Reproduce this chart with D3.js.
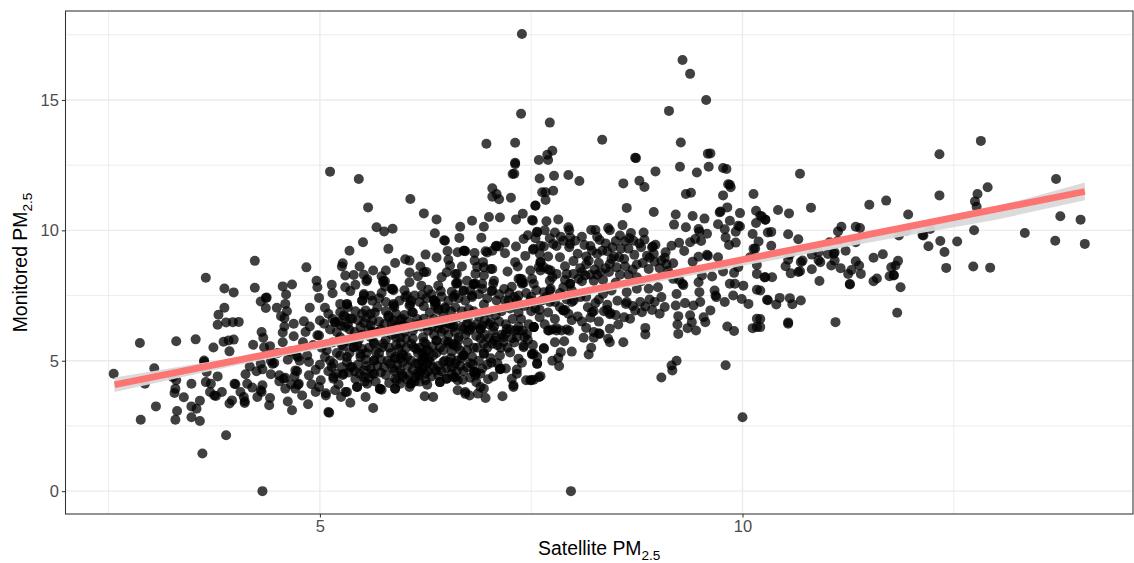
<!DOCTYPE html>
<html>
<head>
<meta charset="utf-8">
<script src="https://cdn.jsdelivr.net/npm/d3@7"></script>
<style>
  body { margin: 0; background: #fff; }
  text { font-family: "Liberation Sans", Arial, sans-serif; }
</style>
</head>
<body>
<div id="chart"></div>
<script>
// points as [satellite, monitored], split by region
const leftPoints = [[2.56,4.5],[2.87,5.68],[3.04,4.71],[2.93,4.12],[2.88,2.74],[3.06,3.25],[3.3,5.75],[3.53,5.82],[3.26,4.37],[3.3,4.25],[3.29,3.93],[3.28,3.76],[3.39,3.6],[3.31,3.07],[3.29,2.74],[3.48,3.25],[3.54,3.16],[3.48,2.83],[3.58,2.69],[3.58,3.47],[3.48,4.12],[3.65,8.18],[3.87,7.77],[3.98,7.62],[4.23,8.83],[4.23,7.8],[4.84,8.58],[4.56,7.85],[4.67,7.92],[4.96,8.07],[4.97,7.82],[4.36,7.41],[4.37,7.42],[4.3,7.27],[4.36,7.02],[4.49,7.03],[4.6,7.54],[4.59,7.18],[4.61,6.9],[4.54,6.71],[4.58,6.63],[4.58,6.31],[4.56,6.08],[4.56,5.71],[4.69,6.42],[4.69,5.94],[4.88,7.03],[4.99,7.41],[3.87,7.03],[3.8,6.76],[3.79,6.38],[3.89,6.47],[3.97,6.48],[4.04,6.49],[3.86,5.73],[3.92,5.78],[3.98,5.81],[3.74,5.51],[3.93,5.36],[4.21,5.61],[4.31,6.1],[4.33,5.88],[4.34,5.52],[4.41,5.56],[3.63,5.01],[3.63,4.95],[3.66,4.57],[3.65,4.18],[3.71,4.12],[3.79,4.4],[3.7,3.8],[3.75,3.67],[3.77,3.65],[3.84,3.8],[3.96,3.48],[3.93,3.36],[3.99,4.12],[4.0,4.1],[4.06,3.8],[4.1,3.61],[4.11,3.38],[4.11,3.45],[4.12,4.48],[4.14,4.12],[4.2,3.97],[4.3,3.87],[4.31,3.8],[4.32,4.06],[4.26,3.61],[4.41,3.57],[4.4,3.29],[4.62,3.44],[4.67,3.1],[4.86,3.33],[4.79,3.67],[3.89,2.14],[3.61,1.44],[4.32,0],[4.17,4.78],[4.3,4.89],[4.32,4.67],[4.42,4.48],[4.46,4.91],[4.44,4.88],[4.52,4.44],[4.57,4.31],[4.59,4.35],[4.52,4.21],[4.59,3.93],[4.73,4.6],[4.71,4.63],[4.75,4.12],[4.74,4.08],[4.71,3.93],[4.87,4.44],[4.62,5.04],[4.74,5.14],[4.72,5.2],[4.85,5.2],[4.87,4.95],[4.8,5.71],[4.83,6.1],[4.81,6.51],[4.88,6.31],[5.0,6.54],[4.99,5.97],[4.97,5.98],[5.06,5.14],[5.01,4.25],[4.99,3.99],[5.07,3.75],[5.1,3.03],[4.95,4.65],[5.0,4.85],[5.02,5.5],[4.92,5.6],[4.76,5.0],[4.66,4.1],[4.7,4.4],[4.9,4.1],[4.95,3.8],[4.65,5.35],[4.5,5.3],[4.42,5.0],[4.25,4.6]];
const upperCentrePoints = [[5.12,12.25],[5.46,11.97],[5.57,10.88],[6.07,11.2],[6.23,10.65],[6.38,10.42],[5.67,10.12],[5.76,9.96],[5.86,10.06],[5.51,9.54],[5.35,9.22],[5.81,9.29],[6.36,9.89],[6.47,9.62],[6.48,9.6],[6.66,10.14],[6.65,9.71],[6.8,10.37],[6.94,10.14],[7.0,10.51],[7.13,10.49],[6.91,9.72],[7.04,11.61],[7.09,11.39],[7.04,11.29],[7.12,11.19],[7.26,11.25],[7.28,12.16],[7.3,12.17],[7.31,12.54],[7.32,10.42],[7.4,10.64],[7.51,10.4],[7.55,10.94],[6.25,9.07],[6.38,8.96],[6.51,9.21],[6.01,8.89],[6.06,8.84],[5.89,8.75],[6.63,9.16],[6.71,9.22],[6.72,9.2],[6.83,9.13],[6.96,9.2],[6.98,9.15],[7.08,9.39],[7.12,9.38],[7.19,9.53],[7.19,9.12],[7.32,9.38],[7.41,9.67],[7.46,9.81],[7.57,9.95],[7.52,9.26],[7.43,9.02],[7.31,8.78],[7.34,8.61],[7.22,8.42],[7.02,8.52],[6.93,8.78],[6.83,8.84],[6.68,8.61],[6.52,8.87],[6.54,8.65],[6.19,8.61],[6.23,8.39],[6.26,8.4],[6.06,8.38],[5.78,8.46],[5.63,8.46],[5.47,8.61],[5.27,8.74],[5.26,8.61],[5.3,8.27],[5.4,8.29],[5.52,8.3],[5.55,8.05],[5.56,8.12],[5.73,8.24],[5.75,8.01],[5.77,8.05],[6.16,8.24],[6.06,8.01],[6.2,7.88],[6.28,7.72],[6.44,8.2],[6.4,7.88],[6.5,8.39],[6.6,8.33],[6.61,7.97],[6.63,7.99],[6.43,7.67],[6.6,7.53],[6.7,7.67],[6.82,7.92],[6.84,7.95],[6.86,8.59],[6.74,8.07],[6.94,8.27],[7.05,7.95],[6.92,7.76],[7.03,7.67],[6.8,7.5],[7.37,8.14],[7.39,8.12],[7.39,7.95],[7.41,7.98],[7.27,7.84],[7.49,8.46],[7.59,8.59],[7.53,7.95],[5.14,7.91],[5.15,7.59],[5.3,7.82],[5.36,7.67],[5.42,7.91],[5.52,7.56],[5.6,7.49],[5.73,7.6],[5.86,7.76],[5.87,7.7],[6.01,7.44],[6.21,7.53],[5.06,7.03],[5.24,7.18],[5.32,7.16],[5.33,7.05],[5.5,7.31],[5.54,6.93],[5.68,7.05],[5.87,7.18],[5.88,7.05],[6.06,7.12],[6.08,7.3],[6.23,7.09],[6.35,7.31],[6.36,7.12],[6.37,7.2],[6.48,7.05],[6.6,7.05],[6.76,6.97],[6.94,7.16],[7.09,7.31],[7.19,7.31],[7.33,7.33],[7.49,7.31]];
const lowerCentrePoints = [[5.11,3.01],[5.36,3.39],[5.63,3.19],[5.54,3.61],[5.25,3.61],[5.07,3.67],[6.24,3.64],[6.34,3.61],[5.71,3.92],[5.73,3.89],[5.89,3.93],[6.06,3.99],[6.27,4.08],[6.08,4.12],[6.42,4.18],[6.5,4.31],[6.58,4.37],[6.69,4.27],[6.63,3.87],[6.72,3.8],[6.77,3.67],[6.87,3.74],[6.94,3.93],[6.96,3.57],[7.16,3.64],[6.99,4.29],[6.85,4.18],[7.29,3.99],[7.27,4.31],[7.44,4.25],[7.5,4.25],[7.59,4.37],[7.13,4.67],[7.14,4.69],[7.33,4.66],[6.83,4.57],[6.85,4.55],[6.81,4.86],[7.03,4.92],[7.25,5.32],[7.13,5.2],[7.39,4.92],[7.35,5.08],[7.51,5.24],[7.57,5.14],[6.7,5.2],[6.94,5.29],[7.04,5.65],[7.17,5.9],[7.41,5.52],[7.45,6.03],[7.53,6.29],[7.31,6.16],[7.05,6.16],[6.9,6.22],[6.74,6.42],[6.58,6.29],[6.38,5.78],[6.52,5.72],[6.6,4.89],[6.48,5.01],[6.37,4.63],[6.23,4.76],[6.17,4.44],[6.23,5.14],[6.23,5.72],[5.99,5.2],[5.89,5.08],[5.95,4.63],[5.91,4.25],[5.64,4.5],[5.52,4.63],[5.64,5.01],[5.4,5.52],[5.44,3.99],[5.3,3.8],[5.16,4.31],[5.14,4.76],[5.24,5.2],[5.38,4.76],[5.08,5.4],[5.48,5.14],[5.75,5.65],[5.95,5.9],[6.11,5.52],[5.64,5.71],[5.24,5.9],[5.05,6.42],[5.18,6.48],[5.38,6.61],[5.48,6.29],[5.62,6.54],[5.81,6.73],[5.95,6.54],[6.23,6.61],[6.42,6.42],
  [5.1,4.6],[5.12,5.0],[5.15,5.7],[5.2,6.1],[5.22,4.1],[5.27,4.45],[5.28,5.55],[5.3,6.3],[5.32,4.95],[5.35,5.3],[5.42,4.3],[5.45,4.85],[5.46,5.8],[5.5,6.0],[5.53,4.2],[5.55,5.3],[5.58,5.5],[5.6,4.7],[5.62,6.1],[5.68,4.8],[5.7,5.3],[5.72,6.2],[5.78,4.45],[5.8,5.0],[5.82,5.5],[5.85,6.0],[5.86,4.7],[5.9,5.6],[5.92,6.3],[5.96,5.1],[5.98,4.4],[6.0,6.1],[6.02,5.5],[6.04,4.8],[6.06,4.45],[6.08,5.0],[6.1,5.85],[6.12,6.3],[6.14,4.9],[6.16,5.3],[6.18,4.2],[6.2,5.0],[6.22,5.9],[6.25,4.5],[6.26,5.4],[6.28,6.15],[6.3,4.95],[6.32,4.4],[6.33,5.55],[6.35,6.0],[6.38,5.3],[6.4,4.8],[6.44,6.1],[6.46,5.4],[6.5,4.7],[6.52,6.0],[6.55,5.1],[6.58,5.6],[6.62,4.6],[6.64,5.9],[6.66,5.4],[6.7,4.6],[6.72,6.0],[6.75,5.7],[6.78,4.9],[6.8,6.3],[6.82,5.5],[6.85,5.95],[6.88,5.0],[6.92,4.7],[6.95,6.0],[6.98,5.5],[7.0,6.4],[7.02,5.1],[7.06,6.3],[7.1,5.6],[7.12,6.5],[7.15,6.0],[7.2,6.4],[7.22,5.5],[7.25,6.2],[7.28,6.6],[7.3,5.7],[7.35,6.3],[7.38,6.6],[7.42,5.9],[7.47,6.4],[7.52,5.6],
  [5.1,6.8],[5.15,6.6],[5.22,6.5],[5.3,6.7],[5.35,6.2],[5.42,6.9],[5.45,6.55],[5.55,6.65],[5.58,6.2],[5.65,6.85],[5.7,6.5],[5.78,6.9],[5.85,6.45],[5.9,6.8],[6.0,6.75],[6.05,6.5],[6.1,6.85],[6.15,6.6],[6.2,6.3],[6.3,6.85],[6.35,6.6],[6.4,6.95],[6.46,6.7],[6.5,6.45],[6.55,6.9],[6.62,6.65],[6.68,6.9],[6.75,6.6],[6.82,6.9],[6.88,6.7],[6.95,6.55],[7.0,6.85],[7.08,6.75],[7.15,6.9],[7.25,7.0],[7.35,6.85],[7.42,7.1],[7.5,6.9]];
// second pass over the darkest blobs of the cloud
const denseCorePoints = [[5.24,6.86],[5.32,7.18],[5.36,6.61],[5.28,6.73],[5.18,6.48],[5.52,7.5],[5.5,7.3],[5.6,6.8],[5.5,6.8],[5.81,6.67],[5.87,7.12],[5.87,6.54],[5.97,6.61],[6.07,7.18],[6.03,7.5],[6.09,6.86],[5.85,7.75],[5.75,8.07],[5.77,7.85],[6.37,7.25],[6.35,7.32],[6.4,6.99],[6.48,6.99],
  [5.4,5.52],[5.32,5.14],[5.48,5.27],[5.64,5.01],[5.74,5.52],[5.89,5.14],[5.97,5.27],[6.03,5.14],[5.93,5.46],[6.17,4.89],[6.23,5.14],[6.29,5.08],[6.19,4.57],[6.13,4.37],[6.07,4.12],[6.25,5.65],[6.38,5.78],[6.52,5.65],[6.64,5.78],[6.46,4.95],[6.53,4.95],[6.6,4.37],[6.5,4.31],[6.42,4.18],[5.52,4.38],[5.44,3.99],[5.32,3.8],[5.18,3.87],[5.16,4.38],[5.28,4.5],[5.36,4.76],[5.16,4.89],[5.62,4.5],[5.56,4.12],[5.71,3.93],[5.89,3.93],[5.89,4.31],[5.97,4.5],[5.83,4.89],[5.95,4.12],[5.64,5.65],[6.21,4.7],[6.27,4.9],[6.25,4.25],[6.12,4.2],[6.16,4.55],[6.21,5.3],[6.18,5.5],
  [6.62,7.95],[6.82,7.95],[6.92,7.95],[6.84,8.33],[6.94,8.58],[7.04,8.52],[6.62,8.33],[7.06,8.07],[7.35,8.14],[7.39,8.01],[7.61,8.78],[7.65,8.58],[7.73,8.46],[7.96,7.95],[7.92,8.33],[8.06,8.14],[7.51,8.14],[7.73,7.76],[7.04,9.22],[7.09,9.41],[6.7,9.22],[7.61,9.41],[7.96,9.48],[6.58,7.44],[6.7,7.69],[6.8,7.44],[7.04,7.69],[7.23,7.31],[7.35,7.5],[7.5,7.45],[7.65,7.63],[7.88,6.93],
  [6.7,6.22],[6.9,6.22],[7.02,6.48],[7.21,6.22],[7.35,6.16],[7.53,6.29],[7.71,6.16],[7.8,6.16],[6.58,6.35],[6.78,6.22],[7.06,5.78],[7.17,5.72],[7.41,5.58],[7.51,5.27],[7.65,5.49],[6.94,5.27],[6.62,5.01],[6.7,5.2],[6.82,4.57],[6.84,4.44],[6.9,3.99],[7.13,4.69],[7.57,4.89],[7.33,4.5],[7.29,4.06],[7.49,4.25],[6.56,4.5],[6.72,3.73],[6.94,5.65],[6.58,5.65],
  [5.12,6.2],[5.25,6.35],[5.33,6.4],[5.41,6.1],[5.52,6.45],[5.6,6.35],[5.68,6.1],[5.76,6.4],[5.84,6.2],[5.98,6.35],[6.03,6.3],[6.1,6.15],[6.16,6.4],[6.26,6.35],[6.33,6.3],[6.4,6.25],[6.47,6.2],[6.54,6.4],[6.6,6.1],[6.68,6.3],[6.76,6.15],[6.85,6.4],[6.92,6.35],[5.2,5.3],[5.26,5.6],[5.34,5.75],[5.44,5.6],[5.5,5.45],[5.54,5.05],[5.6,5.9],[5.66,5.35],[5.72,5.05],[5.78,5.8],[5.84,5.3],[5.9,5.9],[5.96,5.65],[6.02,5.85],[6.08,5.65],[6.14,5.45],[6.28,5.4],[6.34,5.2],[6.42,5.5],[6.48,5.75],[6.56,5.35],[6.62,5.55],[6.68,5.1],[6.74,5.4],[6.8,5.15],[6.86,5.5],[6.9,5.85],[7.0,5.85],[7.08,5.9],[7.14,5.5],[7.2,6.05],[7.27,5.85],[7.33,5.9],[7.4,6.15],[7.46,5.8],
  [5.2,4.5],[5.26,4.75],[5.34,4.55],[5.41,4.6],[5.47,4.5],[5.55,4.8],[5.58,4.35],[5.66,4.2],[5.72,4.55],[5.76,4.75],[5.82,4.15],[5.88,4.6],[5.92,4.85],[5.98,4.95],[6.02,4.3],[6.1,4.65],[6.28,4.6],[6.34,4.75],[6.4,4.45],[6.44,4.6],[6.56,4.75],[6.63,4.25],[6.66,4.8],[6.74,4.75],[6.78,4.35],[6.9,4.5],[6.98,4.85],[7.05,4.4],[7.1,4.9],[7.2,4.7],
  [5.62,7.3],[5.7,7.4],[5.78,7.25],[5.94,7.3],[6.0,7.7],[6.12,7.5],[6.18,7.25],[6.26,7.4],[6.32,7.55],[6.44,7.45],[6.52,7.3],[6.56,7.65],[6.64,7.4],[6.72,7.3],[6.78,7.7],[6.88,7.55],[6.98,7.4],[7.12,7.55],[7.18,7.75],[7.24,7.6],[7.3,7.45],[7.44,7.6],[7.56,7.7],[7.62,7.3],[7.68,7.45],[7.78,7.25],[7.84,7.6],[7.92,7.35],[7.98,7.7]];
const rightCentrePoints = [[7.72,14.13],[8.34,13.47],[8.74,12.77],[9.27,13.37],[9.62,12.95],[9.26,12.44],[8.97,12.26],[9.46,12.22],[9.6,12.44],[9.77,12.39],[9.81,12.35],[7.59,12.7],[7.69,12.9],[7.7,12.7],[7.75,13.05],[7.77,12.09],[7.94,12.12],[8.07,11.89],[7.6,11.99],[8.59,11.8],[8.78,11.9],[8.84,11.66],[9.83,11.77],[9.85,11.75],[9.86,11.65],[7.76,11.52],[7.63,11.46],[7.67,11.46],[7.67,11.16],[7.55,10.95],[9.33,11.39],[9.39,11.44],[9.77,11.34],[10.13,11.39],[8.63,10.86],[8.95,10.7],[9.21,10.61],[9.19,10.22],[9.41,10.55],[9.55,10.45],[9.82,10.88],[9.73,10.69],[9.74,10.72],[9.71,10.23],[9.97,10.66],[10.16,10.75],[10.21,10.56],[10.27,10.41],[10.16,10.28],[9.85,10.37],[9.95,10.18],[9.97,10.15],[9.79,10.04],[9.92,9.95],[10.12,9.86],[9.8,9.73],[10.19,9.57],[9.84,9.44],[9.92,9.53],[10.13,9.29],[10.15,9.3],[10.3,9.92],[7.52,10.37],[7.68,10.35],[7.82,10.42],[7.94,10.12],[7.95,10.0],[7.57,9.92],[7.78,9.92],[7.96,9.73],[8.21,10.01],[8.26,10.01],[8.41,10.09],[8.43,10.0],[8.58,10.2],[8.68,9.9],[8.83,9.92],[8.84,9.64],[8.5,9.59],[8.31,9.63],[8.13,9.44],[8.61,9.58],[8.71,9.6],[8.97,9.45],[8.94,9.38],[9.16,9.41],[9.25,9.52],[9.33,10.12],[9.48,10.05],[9.49,9.95],[9.58,9.87],[9.44,9.67],[9.38,9.54],[9.51,9.59],[9.31,9.21],[9.48,8.99],[9.58,9.06],[9.59,9.02],[9.71,8.97],[9.41,8.8],[9.18,8.74],[9.09,9.16],[9.04,8.84],[8.93,9.35],[8.87,9.03],[8.72,9.06],[8.75,8.69],[8.54,8.97],[8.34,9.22],[8.22,9.22],[8.18,8.84],[8.0,8.82],[7.84,8.97],[7.76,9.48],[7.65,9.38],[7.53,9.29],[7.61,8.78],[7.9,8.62],[8.43,8.71],[8.61,8.62],[8.89,8.52],[9.95,8.59],[10.09,8.97],[10.17,8.67],[10.17,8.33],[10.27,8.2],[9.9,8.37],[9.77,8.42],
  [9.64,8.23],[9.52,8.27],[9.29,7.95],[9.3,7.9],[9.18,8.14],[9.85,7.95],[9.91,7.95],[10.01,7.88],[9.67,7.69],[9.68,7.5],[9.48,8.01],[9.49,7.63],[9.69,7.44],[9.89,7.5],[10.07,7.18],[10.17,7.72],[10.29,7.34],[9.99,7.37],[9.79,7.25],[9.5,7.25],[9.42,7.12],[9.62,6.93],[9.32,7.21],[9.22,7.56],[9.21,7.12],[9.04,7.44],[9.08,7.06],[8.96,7.25],[9.02,6.8],[8.93,6.95],[8.89,7.76],[9.0,7.82],[8.75,7.76],[8.63,7.63],[8.45,7.69],[8.35,7.56],[8.63,7.25],[8.62,7.18],[8.79,7.25],[8.85,7.08],[8.81,6.86],[8.73,6.93],[8.6,6.67],[8.67,6.61],[8.43,6.78],[8.44,6.82],[8.36,6.9],[8.26,7.21],[8.22,6.86],[8.24,6.9],[8.17,7.05],[8.08,7.44],[7.98,7.25],[7.88,6.93],[7.9,6.95],[7.94,6.8],[8.05,6.7],[9.24,6.71],[9.38,6.74],[9.54,6.67],[9.56,6.48],[9.4,6.48],[9.23,6.39],[9.35,6.25],[9.45,6.16],[9.24,6.03],[8.85,6.26],[8.85,6.01],[8.59,5.71],[8.53,6.39],[8.43,6.23],[8.31,6.03],[8.24,6.1],[8.15,6.26],[8.12,5.88],[8.24,5.88],[8.41,5.84],[8.43,5.71],[8.21,5.5],[8.18,5.24],[7.98,5.35],[7.85,5.33],[7.89,5.75],[7.78,5.71],[7.86,6.16],[7.7,6.16],[7.6,6.67],[7.53,6.29],[7.65,5.46],[7.53,5.27],[7.57,4.88],[7.75,5.0],[7.82,5.11],[7.83,4.8],[7.61,4.41],[7.53,4.27],[9.04,4.36],[9.17,4.63],[9.22,5.0],[9.16,4.82],[9.8,4.83],[9.82,6.31],[9.9,6.14],[10.12,6.25],[10.17,6.29],[10.17,6.61],[7.72,8.07],[7.96,7.95],[7.88,7.82],[7.72,7.69],[7.61,8.46],[7.8,8.33],[8.0,8.33],[8.14,8.27],[8.32,8.39],[8.51,8.58],[8.24,8.07],[8.0,7.31],[7.72,7.25],[10.0,2.83],[7.97,0],
  [7.55,7.0],[7.6,6.95],[7.66,6.4],[7.7,6.85],[7.75,6.2],[7.78,6.6],[7.8,6.25],[7.84,7.05],[7.92,6.2],[7.95,6.15],[8.3,6.05],[8.28,8.3],[8.1,8.4],[8.15,8.7],[8.25,8.5],[8.38,8.55],[8.45,8.9],[8.55,8.3],[8.65,9.3],[8.8,9.35],[8.9,8.95],[8.95,9.1],[9.1,8.7],[9.12,8.45],[9.15,8.3],[9.25,8.1],[7.6,9.1],[7.7,9.0],[7.8,9.4],[7.88,9.6],[7.95,9.35],[8.05,9.1],[8.15,9.0],[8.28,9.1],[8.4,9.2],[8.48,9.0],[8.56,9.3],[7.7,8.5],[7.75,8.2],[7.9,8.1],[8.1,8.05],[8.35,8.1],[8.5,8.0],[8.65,8.3],[8.75,8.2],[8.8,8.05],
  [7.55,9.7],[7.66,10.0],[7.72,9.7],[7.85,9.75],[8.02,9.6],[8.1,9.75],[8.2,9.4],[8.28,9.75],[8.38,9.5],[8.46,9.35],[8.55,9.8],[8.66,9.7],[8.78,9.5],[8.08,8.55],[8.2,8.3],[8.3,8.75],[8.42,8.4],[8.6,8.9],[8.7,8.5],[8.82,8.75],[8.96,8.8],[9.02,8.55],[9.08,8.95],[7.98,6.55],[8.1,6.5],[8.2,6.65],[8.3,6.5],[8.4,6.95],[8.5,6.75],[8.52,7.3],[8.7,7.1],[8.9,7.35],[8.3,7.35],[8.4,7.15],[8.15,7.45]];
const farRightPoints = [[7.39,17.53],[9.29,16.53],[9.38,16.0],[9.57,15.0],[9.13,14.58],[7.38,14.47],[6.97,13.32],[7.31,13.36],[7.31,12.59],[8.73,12.78],[9.59,12.94],[12.82,13.43],[12.33,12.92],[10.68,12.17],[13.71,11.97],[12.9,11.65],[12.78,11.39],[12.75,11.11],[12.77,10.9],[12.33,11.34],[11.7,11.14],[11.5,10.98],[10.81,10.87],[10.42,10.78],[10.55,10.65],[10.23,10.53],[10.27,10.41],[11.96,10.61],[13.76,10.54],[14.0,10.41],[13.34,9.9],[12.74,10.0],[13.7,9.6],[14.05,9.48],[12.54,9.57],[12.34,9.59],[12.2,9.39],[12.39,9.17],[12.22,10.05],[12.14,9.8],[12.13,9.82],[11.94,9.99],[11.85,9.8],[12.41,8.56],[12.73,8.61],[12.93,8.57],[10.34,9.94],[10.54,9.85],[10.66,9.66],[10.34,9.41],[11.17,10.14],[11.13,9.96],[11.34,10.14],[11.39,10.09],[11.34,9.54],[11.22,9.22],[11.03,9.54],[11.13,9.6],[11.09,9.16],[11.08,9.1],[11.01,9.09],[10.9,9.16],[10.82,9.07],[10.92,8.78],[10.9,8.85],[11.09,8.84],[11.05,8.65],[11.16,8.55],[10.82,8.51],[10.71,8.84],[10.69,8.78],[10.68,8.43],[10.66,8.4],[10.56,9.07],[10.54,8.87],[10.51,8.62],[10.57,8.35],[10.35,8.2],[10.26,8.2],[10.91,8.06],[11.34,8.81],[11.38,8.65],[11.4,8.33],[11.29,8.48],[11.25,8.33],[11.27,7.92],[11.27,7.94],[11.55,8.95],[11.66,9.08],[11.84,8.83],[11.81,8.65],[11.76,8.58],[11.74,8.24],[11.79,8.29],[11.79,8.27],[11.59,8.15],[11.55,8.05],[11.87,7.82],[11.83,6.84],[11.1,6.48],[10.54,6.47],[10.54,6.42],[10.3,7.32],[10.4,7.16],[10.44,7.41],[10.56,7.4],[10.59,7.17],[10.69,7.31],[10.21,7.69],[10.21,6.6],[10.21,6.29]];

// fitted line and its confidence band
const fitX = [2.57, 14.05];
const fitY = [4.08, 11.49];
const bandX = [2.57, 4, 5, 6, 7.3, 8.5, 10, 11, 12, 13, 14.05];
const bandLow = [3.80, 4.82, 5.45, 6.08, 6.96, 7.72, 8.64, 9.24, 9.83, 10.41, 11.15];
const bandHigh = [4.36, 5.12, 5.67, 6.25, 7.07, 7.86, 8.86, 9.54, 10.21, 10.9, 11.83];

const xMajor = [5, 10];
const xMinor = [2.5, 7.5, 12.5];
const yMajor = [0, 5, 10, 15];
const yMinor = [2.5, 7.5, 12.5, 17.5];

const width = 1134, height = 563;
const panel = { left: 65.5, right: 1133, top: 11, bottom: 514 };

const x = d3.scaleLinear().domain([1.99, 14.62]).range([panel.left, panel.right]);
const y = d3.scaleLinear().domain([-0.8765, 18.41]).range([panel.bottom, panel.top]);

const svg = d3.select("#chart").append("svg")
  .attr("width", width)
  .attr("height", height)
  .style("display", "block");

// grid
const grid = svg.append("g").attr("fill", "none").attr("stroke", "#ebebeb");
grid.selectAll(".minor-x").data(xMinor).join("line")
  .attr("x1", d => x(d)).attr("x2", d => x(d))
  .attr("y1", panel.top).attr("y2", panel.bottom).attr("stroke-width", 0.9);
grid.selectAll(".minor-y").data(yMinor).join("line")
  .attr("x1", panel.left).attr("x2", panel.right)
  .attr("y1", d => y(d)).attr("y2", d => y(d)).attr("stroke-width", 0.9);
grid.selectAll(".major-x").data(xMajor).join("line")
  .attr("x1", d => x(d)).attr("x2", d => x(d))
  .attr("y1", panel.top).attr("y2", panel.bottom).attr("stroke-width", 1.4);
grid.selectAll(".major-y").data(yMajor).join("line")
  .attr("x1", panel.left).attr("x2", panel.right)
  .attr("y1", d => y(d)).attr("y2", d => y(d)).attr("stroke-width", 1.4);

// points
const points = [].concat(leftPoints, upperCentrePoints, lowerCentrePoints, denseCorePoints, rightCentrePoints, farRightPoints);
svg.append("g").selectAll("circle")
  .data(points)
  .join("circle")
  .attr("cx", d => x(d[0]))
  .attr("cy", d => y(d[1]))
  .attr("r", 5)
  .attr("fill", "#000")
  .attr("fill-opacity", 0.75);

// band + line
const band = d3.area()
  .x((d, i) => x(bandX[i]))
  .y0((d, i) => y(bandLow[i]))
  .y1((d, i) => y(bandHigh[i]));
svg.append("path")
  .attr("d", band(bandX))
  .attr("fill", "#d9d9d9")
  .attr("fill-opacity", 0.95);

svg.append("line")
  .attr("x1", x(fitX[0])).attr("x2", x(fitX[1]))
  .attr("y1", y(fitY[0])).attr("y2", y(fitY[1]))
  .attr("stroke", "#fd7572")
  .attr("stroke-width", 6.8);

// panel border
svg.append("rect")
  .attr("x", panel.left).attr("y", panel.top)
  .attr("width", panel.right - panel.left)
  .attr("height", panel.bottom - panel.top)
  .attr("fill", "none")
  .attr("stroke", "#333333")
  .attr("stroke-width", 1.05);

// axes
const xAxis = svg.append("g")
  .attr("transform", `translate(0,${panel.bottom})`)
  .call(d3.axisBottom(x).tickValues(xMajor).tickSize(3.6).tickPadding(3).tickFormat(d3.format("d")));
const yAxis = svg.append("g")
  .attr("transform", `translate(${panel.left},0)`)
  .call(d3.axisLeft(y).tickValues(yMajor).tickSize(3.6).tickPadding(3).tickFormat(d3.format("d")));
[xAxis, yAxis].forEach(a => {
  a.select(".domain").remove();
  a.selectAll(".tick line").attr("stroke", "#333333").attr("stroke-width", 1.05);
  a.selectAll(".tick text")
    .attr("fill", "#4d4d4d")
    .style("font-family", '"Liberation Sans", Arial, sans-serif')
    .style("font-size", "16.5px");
});

// axis titles with the subscript as a tspan
function title(sel, label) {
  sel.attr("text-anchor", "middle").attr("fill", "#000").style("font-size", "19.4px");
  sel.append("tspan").text(label + " PM");
  sel.append("tspan").text("2.5").attr("dy", 5).style("font-size", "13.6px");
}
svg.append("text")
  .attr("x", (panel.left + panel.right) / 2)
  .attr("y", 555)
  .call(title, "Satellite");
svg.append("text")
  .attr("transform", `translate(27,${(panel.top + panel.bottom) / 2}) rotate(-90)`)
  .call(title, "Monitored");
</script>
</body>
</html>
